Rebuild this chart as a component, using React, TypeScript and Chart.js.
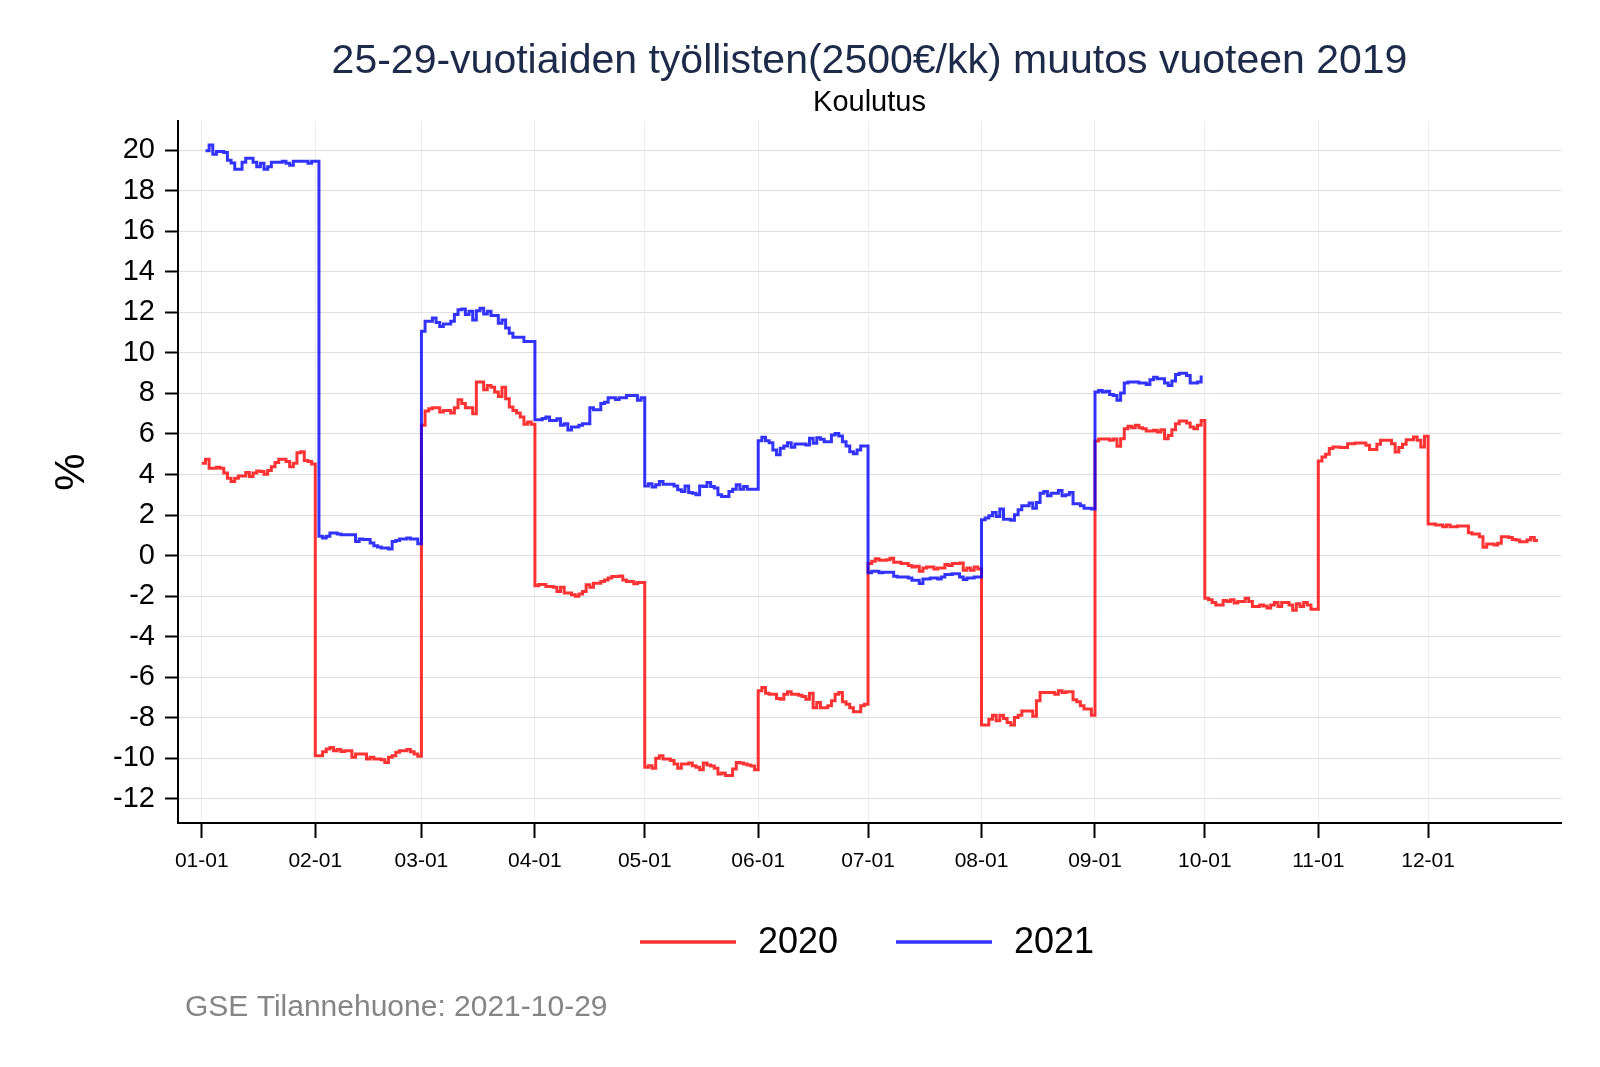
import React, { useEffect, useRef } from "react";
import { Chart, registerables } from "chart.js";

Chart.register(...registerables);

// x = day of year (0 = 01-01, leap-year calendar), y = % change vs 2019
const red2020: [number, number][] = [
  [0, 4.56], [1, 4.75], [2, 4.31], [4, 4.36], [5, 4.31], [6, 4.07], [7, 3.82], [8, 3.66], [9, 3.82], [10, 3.93],
  [12, 4.1], [13, 3.9], [14, 4.07], [15, 4.18], [16, 4.15], [17, 4.02], [18, 4.2], [19, 4.39], [20, 4.59], [21, 4.75],
  [23, 4.64], [24, 4.39], [25, 4.56], [26, 5.08], [27, 5.13], [28, 4.69], [29, 4.64], [30, 4.52],
  [31, -9.87], [33, -9.67], [34, -9.54], [35, -9.46], [36, -9.62], [37, -9.57], [38, -9.66], [39, -9.62], [41, -9.95],
  [42, -9.79], [45, -10.03], [46, -9.95], [47, -10.03], [49, -10.07], [50, -10.2], [51, -9.95], [52, -9.87], [53, -9.7],
  [54, -9.62], [56, -9.57], [57, -9.67], [58, -9.79], [59, -9.9],
  [60, 6.43], [61, 7.13], [62, 7.25], [63, 7.3], [65, 7.08], [66, 7.16], [68, 7.03], [69, 7.3], [70, 7.69], [71, 7.5],
  [72, 7.3], [74, 7.0], [75, 8.56], [77, 8.18], [78, 8.39], [79, 8.31], [80, 8.07], [81, 7.85], [82, 8.31], [83, 7.74],
  [84, 7.33], [85, 7.16], [86, 7.03], [87, 6.84], [88, 6.48], [89, 6.59], [90, 6.48],
  [91, -1.49], [92, -1.43], [94, -1.52], [96, -1.56], [97, -1.77], [98, -1.56], [99, -1.85], [101, -1.93], [102, -2.0],
  [103, -1.89], [104, -1.77], [105, -1.44], [106, -1.56], [107, -1.36], [109, -1.28], [110, -1.2], [111, -1.11],
  [112, -1.03], [114, -1.0], [115, -1.2], [116, -1.28], [118, -1.39], [119, -1.33],
  [121, -10.44], [122, -10.36], [123, -10.49], [124, -10.0], [125, -9.87], [126, -10.03], [128, -10.11], [129, -10.28],
  [130, -10.49], [131, -10.28], [133, -10.23], [134, -10.36], [135, -10.44], [136, -10.56], [137, -10.23], [138, -10.33],
  [139, -10.38], [140, -10.49], [141, -10.77], [142, -10.72], [143, -10.85], [145, -10.52], [146, -10.2], [147, -10.23],
  [148, -10.28], [149, -10.33], [150, -10.38], [151, -10.56],
  [152, -6.67], [153, -6.51], [154, -6.79], [155, -6.84], [157, -7.05], [158, -7.08], [159, -6.84], [160, -6.72],
  [161, -6.84], [163, -6.89], [164, -6.95], [165, -7.08], [166, -6.79], [167, -7.5], [168, -7.25], [169, -7.5],
  [171, -7.41], [172, -7.16], [173, -6.84], [174, -6.75], [175, -7.21], [176, -7.33], [177, -7.5], [178, -7.7],
  [180, -7.41], [181, -7.33],
  [182, -0.39], [183, -0.28], [184, -0.16], [185, -0.23], [187, -0.2], [188, -0.13], [189, -0.33], [191, -0.39],
  [193, -0.49], [194, -0.56], [195, -0.52], [196, -0.77], [197, -0.61], [198, -0.56], [200, -0.66], [201, -0.61],
  [203, -0.44], [204, -0.49], [205, -0.39], [207, -0.36], [208, -0.72], [209, -0.61], [210, -0.72], [211, -0.56],
  [212, -0.66],
  [213, -8.36], [215, -8.07], [216, -7.87], [217, -8.15], [218, -7.87], [219, -8.03], [220, -8.23], [221, -8.36],
  [222, -7.98], [223, -7.87], [224, -7.66], [227, -7.92], [228, -7.16], [229, -6.75], [233, -6.84], [234, -6.67],
  [235, -6.75], [236, -6.72], [238, -7.11], [239, -7.21], [240, -7.41], [241, -7.57], [243, -7.87],
  [244, 5.66], [245, 5.75], [248, 5.69], [249, 5.75], [250, 5.39], [251, 5.77], [252, 6.26], [253, 6.38], [254, 6.31],
  [255, 6.43], [256, 6.31], [257, 6.26], [258, 6.15], [260, 6.18], [261, 6.1], [262, 6.21], [263, 5.77], [264, 5.93],
  [265, 6.21], [266, 6.51], [267, 6.64], [269, 6.54], [270, 6.34], [271, 6.26], [272, 6.43], [273, 6.67],
  [274, -2.1], [275, -2.18], [276, -2.31], [277, -2.43], [279, -2.21], [280, -2.26], [281, -2.18], [282, -2.34],
  [283, -2.26], [285, -2.1], [286, -2.26], [287, -2.51], [289, -2.43], [290, -2.48], [291, -2.59], [292, -2.43],
  [293, -2.31], [294, -2.51], [295, -2.31], [297, -2.43], [298, -2.7], [299, -2.38], [300, -2.51], [301, -2.31],
  [302, -2.43], [303, -2.64],
  [305, 4.67], [306, 4.87], [307, 5.0], [308, 5.28], [309, 5.36], [311, 5.33], [313, 5.52], [315, 5.56], [318, 5.44],
  [319, 5.23], [321, 5.49], [322, 5.69], [325, 5.52], [326, 5.11], [327, 5.33], [328, 5.49], [329, 5.72], [331, 5.85],
  [332, 5.69], [333, 5.36], [334, 5.89],
  [335, 1.56], [337, 1.51], [339, 1.43], [340, 1.51], [341, 1.43], [343, 1.46], [346, 1.13], [347, 1.07], [349, 0.93],
  [350, 0.41], [351, 0.57], [353, 0.52], [354, 0.61], [355, 0.93], [357, 0.9], [358, 0.8], [359, 0.77], [360, 0.69],
  [362, 0.77], [363, 0.9], [364, 0.74], [365, 0.74],
];

const blue2021: [number, number][] = [
  [1, 19.97], [2, 20.26], [3, 19.8], [4, 19.93], [6, 19.88], [7, 19.5], [8, 19.37], [9, 19.06], [11, 19.4], [12, 19.6],
  [14, 19.4], [15, 19.18], [16, 19.35], [17, 19.06], [18, 19.18], [19, 19.4], [22, 19.45], [23, 19.35], [24, 19.26],
  [25, 19.45], [29, 19.36], [30, 19.45],
  [32, 0.95], [33, 0.87], [34, 0.95], [35, 1.11], [37, 1.07], [38, 1.03], [42, 0.7], [43, 0.82], [44, 0.79], [46, 0.62],
  [47, 0.49], [48, 0.43], [49, 0.38], [51, 0.33], [52, 0.7], [53, 0.75], [54, 0.82], [56, 0.87], [57, 0.82], [59, 0.59],
  [60, 11.07], [61, 11.56], [63, 11.72], [64, 11.5], [65, 11.3], [66, 11.43], [68, 11.56], [69, 11.9], [70, 12.13],
  [71, 12.16], [72, 11.9], [73, 12.05], [74, 11.62], [75, 12.08], [76, 12.2], [77, 11.92], [78, 12.05], [79, 11.84],
  [81, 11.46], [82, 11.62], [83, 11.23], [84, 10.97], [85, 10.77], [88, 10.56],
  [91, 6.7], [93, 6.77], [94, 6.84], [95, 6.67], [97, 6.75], [98, 6.43], [99, 6.5], [100, 6.2], [101, 6.34], [103, 6.43],
  [104, 6.5], [106, 7.3], [107, 7.2], [109, 7.5], [110, 7.57], [111, 7.79], [113, 7.7], [114, 7.79], [116, 7.9],
  [119, 7.66], [120, 7.79],
  [121, 3.44], [122, 3.54], [123, 3.38], [124, 3.49], [125, 3.66], [126, 3.52], [129, 3.44], [130, 3.25], [131, 3.16],
  [132, 3.44], [133, 3.11], [134, 3.08], [135, 3.0], [136, 3.44], [137, 3.41], [138, 3.61], [139, 3.41], [140, 3.33],
  [141, 3.0], [142, 2.92], [144, 3.16], [145, 3.28], [146, 3.49], [147, 3.28], [148, 3.41], [149, 3.28],
  [152, 5.67], [153, 5.84], [154, 5.67], [155, 5.57], [156, 5.21], [157, 4.97], [158, 5.3], [159, 5.41], [160, 5.57],
  [161, 5.34], [162, 5.51], [165, 5.46], [166, 5.79], [167, 5.54], [168, 5.82], [169, 5.74], [170, 5.62], [172, 5.95],
  [173, 6.03], [174, 5.9], [175, 5.62], [176, 5.41], [177, 5.13], [178, 5.02], [179, 5.21], [180, 5.41],
  [182, -0.85], [183, -0.77], [185, -0.85], [186, -0.82], [189, -1.02], [190, -1.05], [193, -1.1], [194, -1.21],
  [196, -1.38], [197, -1.15], [199, -1.1], [201, -1.15], [202, -1.05], [203, -0.93], [205, -0.89], [207, -1.05],
  [208, -1.18], [209, -1.1], [211, -1.05],
  [213, 1.77], [214, 1.85], [215, 1.97], [216, 2.13], [217, 1.93], [218, 2.3], [219, 1.8], [221, 1.74], [222, 2.02],
  [223, 2.26], [224, 2.46], [226, 2.59], [227, 2.34], [228, 2.62], [229, 3.08], [230, 3.16], [231, 2.95], [232, 3.08],
  [234, 3.21], [235, 2.95], [236, 3.0], [237, 3.11], [238, 2.56], [240, 2.46], [241, 2.34], [243, 2.3],
  [244, 8.07], [245, 8.15], [246, 8.07], [247, 8.11], [248, 7.95], [249, 7.9], [250, 7.66], [251, 8.02], [252, 8.51],
  [253, 8.56], [256, 8.51], [258, 8.44], [259, 8.67], [260, 8.8], [261, 8.72], [263, 8.51], [264, 8.39], [265, 8.61],
  [266, 8.93], [267, 9.0], [269, 8.89], [270, 8.51], [272, 8.56], [273, 8.89],
];

const monthStartDays = [0, 31, 60, 91, 121, 152, 182, 213, 244, 274, 305, 335];
const monthLabels = ["01-01", "02-01", "03-01", "04-01", "05-01", "06-01", "07-01", "08-01", "09-01", "10-01", "11-01", "12-01"];
const yTicks = [-12, -10, -8, -6, -4, -2, 0, 2, 4, 6, 8, 10, 12, 14, 16, 18, 20];

const seriesLabels = ["2020", "2021"];
const seriesColors = ["rgba(255,0,0,0.8)", "rgba(0,0,255,0.8)"];

const TITLE = "25-29-vuotiaiden työllisten(2500€/kk) muutos vuoteen 2019";
const SUBTITLE = "Koulutus";
const Y_TITLE = "%";
const CAPTION = "GSE Tilannehuone: 2021-10-29";

const FONT = "'Liberation Sans', Arial, Helvetica, sans-serif";

const decorPlugin = {
  id: "decor",
  afterDraw(chart: any) {
    const ctx = chart.ctx as CanvasRenderingContext2D;
    const area = chart.chartArea;
    const cx = (area.left + area.right) / 2;
    ctx.save();
    ctx.textAlign = "center";
    ctx.textBaseline = "middle";
    ctx.fillStyle = "#1e2a4a";
    ctx.font = `41px ${FONT}`;
    ctx.fillText(TITLE, cx, 62);
    ctx.fillStyle = "#000";
    ctx.font = `29px ${FONT}`;
    ctx.fillText(SUBTITLE, cx, 103);

    // y axis title
    ctx.save();
    ctx.translate(72, (area.top + area.bottom) / 2);
    ctx.rotate(-Math.PI / 2);
    ctx.font = `42px ${FONT}`;
    ctx.fillText(Y_TITLE, 0, 0);
    ctx.restore();

    // legend
    const legendY = 942;
    const items = [
      { x: 640, label: seriesLabels[0], color: seriesColors[0] },
      { x: 896, label: seriesLabels[1], color: seriesColors[1] },
    ];
    ctx.textAlign = "left";
    ctx.font = `36px ${FONT}`;
    for (const it of items) {
      ctx.strokeStyle = it.color;
      ctx.lineWidth = 3.5;
      ctx.beginPath();
      ctx.moveTo(it.x, legendY);
      ctx.lineTo(it.x + 96, legendY);
      ctx.stroke();
      ctx.fillStyle = "#000";
      ctx.fillText(it.label, it.x + 118, legendY + 1);
    }

    // caption
    ctx.fillStyle = "#858585";
    ctx.font = `30px ${FONT}`;
    ctx.fillText(CAPTION, 185, 1008);
    ctx.restore();
  },
};

export default function App() {
  const canvasRef = useRef<HTMLCanvasElement | null>(null);

  useEffect(() => {
    const canvas = canvasRef.current;
    if (!canvas) return;
    Chart.defaults.font.family = FONT;
    const chart = new Chart(canvas, {
      type: "line",
      data: {
        datasets: [
          {
            label: seriesLabels[0],
            data: red2020.map(([x, y]) => ({ x, y })),
            borderColor: seriesColors[0],
            backgroundColor: seriesColors[0],
            borderWidth: 3,
            stepped: "before",
            pointRadius: 0,
            fill: false,
            order: 1,
          },
          {
            label: seriesLabels[1],
            data: blue2021.map(([x, y]) => ({ x, y })),
            borderColor: seriesColors[1],
            backgroundColor: seriesColors[1],
            borderWidth: 3,
            stepped: "before",
            pointRadius: 0,
            fill: false,
            order: 0,
          },
        ],
      },
      options: {
        responsive: false,
        maintainAspectRatio: false,
        animation: false,
        devicePixelRatio: 1,
        layout: { padding: { left: 0, top: 121, right: 39, bottom: 184 } },
        plugins: {
          legend: { display: false },
          title: { display: false },
          tooltip: { enabled: false },
        },
        scales: {
          x: {
            type: "linear",
            min: -6.5,
            max: 371.3,
            afterBuildTicks: (scale: any) => {
              scale.ticks = monthStartDays.map((v) => ({ value: v }));
            },
            afterFit: (scale: any) => {
              scale.height = 60;
            },
            ticks: {
              autoSkip: false,
              maxRotation: 0,
              minRotation: 0,
              padding: 11,
              color: "#000",
              font: { size: 21, family: FONT },
              callback: (_v: any, i: number) => monthLabels[i],
            },
            grid: {
              color: "#ececec",
              lineWidth: 1,
              tickColor: "#000",
              tickLength: 15,
              tickWidth: 2,
            },
            border: { display: true, color: "#000", width: 2 },
          },
          y: {
            type: "linear",
            min: -13.19,
            max: 21.44,
            afterBuildTicks: (scale: any) => {
              scale.ticks = yTicks.map((v) => ({ value: v }));
            },
            afterFit: (scale: any) => {
              scale.width = 178;
            },
            ticks: {
              padding: 10,
              color: "#000",
              font: { size: 29, family: FONT },
              callback: (v: any) => String(v),
            },
            grid: {
              color: "#dedede",
              lineWidth: 1,
              tickColor: "#000",
              tickLength: 13,
              tickWidth: 2,
            },
            border: { display: true, color: "#000", width: 2 },
          },
        },
      },
      plugins: [decorPlugin],
    } as any);
    return () => chart.destroy();
  }, []);

  return (
    <div style={{ position: "absolute", left: 0, top: 0, width: 1600, height: 1067, background: "#fff" }}>
      <canvas ref={canvasRef} width={1600} height={1067} style={{ display: "block", width: 1600, height: 1067 }} />
    </div>
  );
}
